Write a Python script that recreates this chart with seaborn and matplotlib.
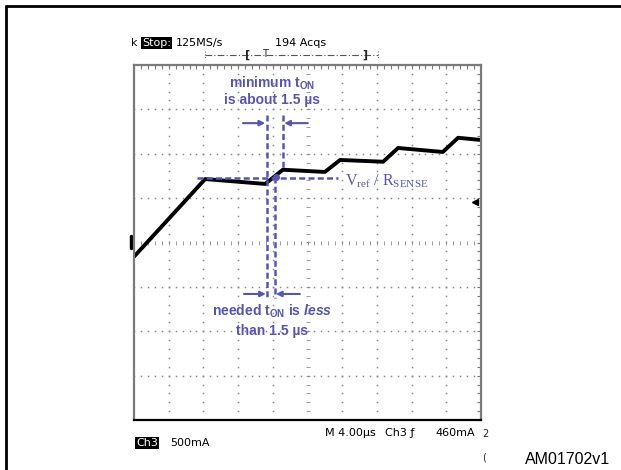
import numpy as np
import pandas as pd
import matplotlib
matplotlib.use("Agg")
import matplotlib.pyplot as plt
from matplotlib.lines import Line2D
import seaborn as sns

# waveform (x in time divisions, y in vertical divisions)
wave_t = [0.0, 2.05, 3.78, 4.29, 5.50, 5.94, 7.18, 7.61, 8.90, 9.34, 10.0]
wave_i = [-0.32, 1.43, 1.32, 1.64, 1.59, 1.86, 1.82, 2.13, 2.04, 2.36, 2.31]

# annotation markers (divisions)
t_left = 3.83
t_right_min = 4.29
t_right_need = 4.06
i_ref = 1.455

top_labels = ["k", "Stop:", "125MS/s", "194 Acqs"]
bottom_labels = ["M 4.00\u00b5s", "Ch3 \u0192", "460mA"]
ch_label = "Ch3"
scale_label = "500mA"
fig_id = "AM01702v1"

blue = "#5656b2"

sns.set_style("white")
plt.rcParams['font.family'] = ['Liberation Sans', 'DejaVu Sans']
plt.rcParams['mathtext.fontset'] = 'custom'
plt.rcParams['mathtext.rm'] = 'Liberation Serif'
plt.rcParams['mathtext.bf'] = 'Liberation Sans:bold'
plt.rcParams['mathtext.it'] = 'Liberation Sans:italic:bold'

W, H = 621, 470
fig = plt.figure(figsize=(W / 100, H / 100), dpi=100)
fig.patch.set_facecolor("white")

def fx(px):
    return px / W

def fy(py):
    return 1 - py / H

# outer frame (top and left)
fig.add_artist(Line2D([fx(6), 1], [fy(6), fy(6)], color="black", lw=2))
fig.add_artist(Line2D([fx(6), fx(6)], [fy(6), 0], color="black", lw=2))

ax = fig.add_axes([fx(134), fy(420), (481 - 134) / W, (420 - 65) / H])
ax.set_xlim(0, 10)
ax.set_ylim(-4, 4)

# graticule
minor_x = np.arange(0, 10.01, 0.2)
minor_y = np.arange(-4, 4.01, 0.2)
for gx in range(1, 10):
    if gx == 5:
        continue
    ax.plot([gx] * len(minor_y), minor_y, ls="none", marker="s", ms=1.1,
            color="#8a8a8a", mew=0)
for gy in range(-3, 4):
    if gy == 0:
        continue
    ax.plot(minor_x, [gy] * len(minor_x), ls="none", marker="s", ms=1.1,
            color="#8a8a8a", mew=0)
# centre lines with small ticks
ax.plot(minor_x, [0] * len(minor_x), ls="none", marker="|", ms=3,
        color="#8a8a8a", mew=0.6)
ax.plot([5] * len(minor_y), minor_y, ls="none", marker="_", ms=3,
        color="#8a8a8a", mew=0.6)

ax.set_xticks(range(0, 11))
ax.set_yticks(range(-4, 5))
ax.set_xticks(minor_x, minor=True)
ax.set_yticks(minor_y, minor=True)
ax.tick_params(which="both", direction="in", length=3, width=0.8, color="#777777",
               top=True, right=True, labelbottom=False, labelleft=False)
for side in ["top", "left", "right"]:
    ax.spines[side].set_color("#7a7a7a")
    ax.spines[side].set_linewidth(1.6)
ax.spines["bottom"].set_color("black")
ax.spines["bottom"].set_linewidth(1.6)

# waveform
df = pd.DataFrame({"t": wave_t, "i": wave_i})
sns.lineplot(data=df, x="t", y="i", color="black", linewidth=2.8, ax=ax,
             legend=False, sort=False)
ax.set_xlabel("")
ax.set_ylabel("")

# channel ground marker and trigger level marker
ax.plot([-0.08, -0.08], [-0.12, 0.15], color="black", lw=2.5, clip_on=False)
ax.plot([9.83], [0.91], marker="<", ms=5, color="black", clip_on=False)

# blue dashed guides
dash = (0, (2.4, 1.3))
ax.plot([t_left, t_left], [2.87, -1.25], ls=dash, lw=1.8, color=blue)
ax.plot([t_right_min, t_right_min], [2.87, 1.68], ls=dash, lw=1.8, color=blue)
ax.plot([t_right_need, t_right_need], [1.48, -1.25], ls=dash, lw=1.8, color=blue)
ax.plot([1.82, 5.88], [i_ref, i_ref], ls=dash, lw=1.8, color=blue)
ax.plot([4.09], [1.48], marker="o", ms=4, color=blue)

arrow = dict(arrowstyle="-|>", color=blue, lw=1.5, mutation_scale=8,
             shrinkA=0, shrinkB=0)
ax.annotate("", xy=(t_left - 0.05, 2.69), xytext=(3.14, 2.69), arrowprops=arrow)
ax.annotate("", xy=(t_right_min + 0.04, 2.69), xytext=(5.01, 2.69), arrowprops=arrow)
ax.annotate("", xy=(t_left - 0.03, -1.16), xytext=(3.17, -1.16), arrowprops=arrow)
ax.annotate("", xy=(t_right_need + 0.03, -1.16), xytext=(4.78, -1.16), arrowprops=arrow)

# blue texts
tk = dict(color=blue, fontsize=10, fontweight="bold", ha="center", va="center")
ax.text(3.99, 3.59, r"minimum t$_\mathbf{ON}$", **tk)
ax.text(3.99, 3.21, "is about 1.5 \u00b5s", **tk)
ax.text(3.98, -1.54, r"needed t$_\mathbf{ON}$ is $\mathit{less}$", **tk)
ax.text(3.98, -1.99, "than 1.5 \u00b5s", **tk)
ax.text(6.08, 1.39, r"V$_\mathrm{ref}$ / R$_\mathrm{SENSE}$", color=blue,
        fontsize=11.5, family="Liberation Serif", ha="left", va="center")

# scope status texts
st = dict(fontsize=8, family="DejaVu Sans", va="center", color="black")
fig.text(fx(131), fy(43), top_labels[0], **st)
fig.text(fx(142), fy(43), top_labels[1], color="white", fontsize=8,
         family="DejaVu Sans", va="center",
         bbox=dict(facecolor="black", edgecolor="none", pad=0.6))
fig.text(fx(176), fy(43), top_labels[2], **st)
fig.text(fx(275), fy(43), top_labels[3], **st)

# trigger position bar
fig.add_artist(Line2D([fx(205), fx(378)], [fy(55), fy(55)], color="#555555",
                      lw=0.8, ls=(0, (6, 2, 1, 2))))
for px in [205, 378]:
    fig.add_artist(Line2D([fx(px), fx(px)], [fy(51), fy(59)], color="#777777",
                          lw=0.8, ls=(0, (1, 1.5))))
fig.text(fx(248), fy(55), "[", fontsize=8, ha="center", va="center",
         fontweight="bold", family="DejaVu Sans")
fig.text(fx(265), fy(54), "T", fontsize=7, ha="center", va="center",
         family="DejaVu Sans")
fig.text(fx(365), fy(55), "]", fontsize=8, ha="center", va="center",
         fontweight="bold", family="DejaVu Sans")

fig.text(fx(325), fy(433), bottom_labels[0], **st)
fig.text(fx(385), fy(433), bottom_labels[1], **st)
fig.text(fx(435), fy(433), bottom_labels[2], **st)
fig.text(fx(482), fy(434), "2", fontsize=7, family="DejaVu Sans", va="center")
fig.text(fx(482), fy(458), "(", fontsize=7, family="DejaVu Sans", va="center")
fig.text(fx(136), fy(443), ch_label, color="white", fontsize=8,
         family="DejaVu Sans", va="center",
         bbox=dict(facecolor="black", edgecolor="none", pad=0.6))
fig.text(fx(170), fy(443), scale_label, **st)

fig.text(fx(525), fy(459), fig_id, fontsize=11.5, va="center", color="black")

fig.savefig("out.png", dpi=100)
